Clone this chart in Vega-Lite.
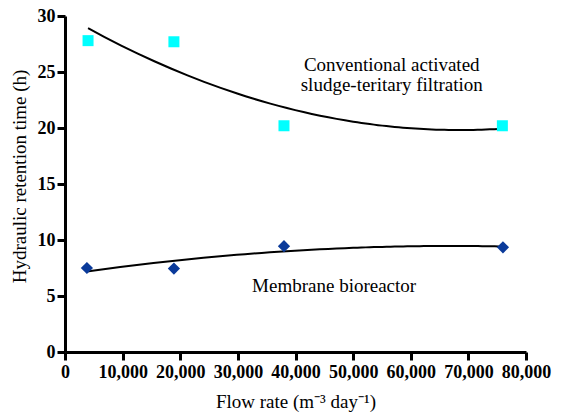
{
  "$schema": "https://vega.github.io/schema/vega-lite/v6.json",
  "width": 461,
  "height": 336,
  "autosize": {"type": "none"},
  "padding": {"left": 65, "top": 16, "right": 36, "bottom": 63},
  "background": "white",
  "config": {
    "view": {"stroke": null},
    "axis": {
      "grid": false,
      "domainColor": "black",
      "domainWidth": 3,
      "tickColor": "black",
      "tickWidth": 3,
      "tickSize": 8,
      "labelOverlap": false,
      "labelBound": false,
      "labelFlush": false,
      "labelFont": "Liberation Serif",
      "labelFontWeight": "bold",
      "labelFontSize": 18,
      "labelColor": "black",
      "titleFont": "Liberation Serif",
      "titleFontWeight": "normal",
      "titleFontSize": 19,
      "titleColor": "black"
    }
  },
  "datasets": {
    "points": [
      {"series": "Conventional", "flow": 4000, "hrt": 27.8},
      {"series": "Conventional", "flow": 18900, "hrt": 27.7},
      {"series": "Conventional", "flow": 38000, "hrt": 20.2},
      {"series": "Conventional", "flow": 75900, "hrt": 20.2},
      {"series": "MBR", "flow": 3800, "hrt": 7.5},
      {"series": "MBR", "flow": 18900, "hrt": 7.45},
      {"series": "MBR", "flow": 38000, "hrt": 9.45},
      {"series": "MBR", "flow": 76000, "hrt": 9.35}
    ],
    "labels": [
      {"flow": 56700, "hrt": 25.6, "label": ["Conventional activated", "sludge-teritary filtration"]},
      {"flow": 46700, "hrt": 5.9, "label": ["Membrane bioreactor"]}
    ]
  },
  "layer": [
    {
      "data": {"name": "points"},
      "transform": [
        {"regression": "hrt", "on": "flow", "groupby": ["series"], "method": "poly", "order": 2}
      ],
      "mark": {"type": "line", "color": "black", "strokeWidth": 2},
      "encoding": {
        "x": {
          "field": "flow", "type": "quantitative",
          "scale": {"domain": [0, 80000], "nice": false},
          "axis": {"values": [0, 10000, 20000, 30000, 40000, 50000, 60000, 70000, 80000], "format": ",d", "labelPadding": 3, "titlePadding": 11},
          "title": "Flow rate (m⁻³ day⁻¹)"
        },
        "y": {
          "field": "hrt", "type": "quantitative",
          "scale": {"domain": [0, 30], "nice": false},
          "axis": {"values": [0, 5, 10, 15, 20, 25, 30], "labelPadding": 2, "titlePadding": 8, "titleY": 160},
          "title": "Hydraulic retention time (h)"
        },
        "detail": {"field": "series"}
      }
    },
    {
      "data": {"name": "points"},
      "mark": {"type": "point", "filled": true, "opacity": 1},
      "encoding": {
        "x": {"field": "flow", "type": "quantitative"},
        "y": {"field": "hrt", "type": "quantitative"},
        "shape": {
          "field": "series", "type": "nominal",
          "scale": {"domain": ["Conventional", "MBR"], "range": ["square", "diamond"]},
          "legend": null
        },
        "color": {
          "field": "series", "type": "nominal",
          "scale": {"domain": ["Conventional", "MBR"], "range": ["#00ffff", "#0a3a9a"]},
          "legend": null
        },
        "size": {
          "field": "series", "type": "nominal",
          "scale": {"domain": ["Conventional", "MBR"], "range": [121, 150]},
          "legend": null
        }
      }
    },
    {
      "data": {"name": "labels"},
      "mark": {"type": "text", "font": "Liberation Serif", "fontSize": 19, "color": "black", "align": "center", "baseline": "middle", "lineHeight": 20},
      "encoding": {
        "x": {"field": "flow", "type": "quantitative"},
        "y": {"field": "hrt", "type": "quantitative"},
        "text": {"field": "label"}
      }
    }
  ]
}
